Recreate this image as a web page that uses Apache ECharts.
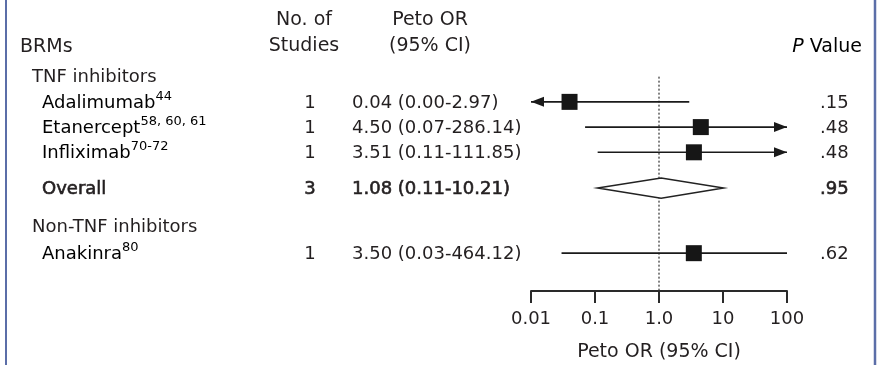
<!DOCTYPE html>
<html><head><meta charset="utf-8">
<script src="https://cdn.jsdelivr.net/npm/echarts@6/dist/echarts.min.js"></script>
<style>html,body{margin:0;padding:0;background:#fff}#c{width:882px;height:365px}</style>
</head><body><div id="c"></div>
<script>
// ---- data ----
const rowLabels = ['TNF inhibitors', 'Adalimumab', 'Etanercept', 'Infliximab', 'Overall', 'Non-TNF inhibitors', 'Anakinra'];
const rowRefs = ['', '44', '58, 60, 61', '70-72', '', '', '80'];
const rowKind = ['group', 'study', 'study', 'study', 'overall', 'group', 'study'];
const rowPos = [3, 4, 5, 6, 7.42, 8.93, 10];
const nStudies = [null, 1, 1, 1, 3, null, 1];
const orEst = [null, 0.04, 4.50, 3.51, 1.08, null, 3.50];
const ciLow = [null, 0.00, 0.07, 0.11, 0.11, null, 0.03];
const ciHigh = [null, 2.97, 286.14, 111.85, 10.21, null, 464.12];
const ciArrow = ['', 'left', 'right', 'right', '', '', ''];
const pValues = ['', '.15', '.48', '.48', '.95', '', '.62'];
const tickLabels = ['0.01', '0.1', '1.0', '10', '100'];
const headerRows = [0.75, 1.79];
const refLineFrom = 3;
const axisMin = 0.01, axisMax = 100;

// ---- setup ----
const FONT = 'DejaVu Sans';
const TXT = '#231f20';
const chart = echarts.init(document.getElementById('c'), null, {renderer: 'canvas'});

const studyIdx = rowKind.map((k, i) => k === 'study' ? i : -1).filter(i => i >= 0);
const overallIdx = rowKind.map((k, i) => k === 'overall' ? i : -1).filter(i => i >= 0);
const fmt = v => v.toFixed(2);

function txt(x, y, text, align, extra) {
  return {
    type: 'text',
    style: Object.assign({
      x: x, y: y, text: text,
      align: align, textAlign: align,
      verticalAlign: 'middle', textVerticalAlign: 'middle',
      fill: TXT, fontFamily: FONT, fontSize: 18
    }, extra || {})
  };
}

const option = {
  animation: false,
  backgroundColor: '#fff',
  grid: {left: 531, right: 95, top: 1, height: 290, outerBoundsMode: 'none'},
  xAxis: {
    type: 'log', logBase: 10, min: axisMin, max: axisMax, position: 'bottom',
    axisLine: {show: true, onZero: false, lineStyle: {color: '#2a2a2a', width: 2}},
    axisTick: {show: true, inside: false, length: 12, lineStyle: {color: '#2a2a2a', width: 2}},
    axisLabel: {
      margin: 19, color: TXT, fontFamily: FONT, fontSize: 18,
      formatter: v => tickLabels[Math.round(Math.log10(v)) + 2]
    },
    splitLine: {show: false}, minorTick: {show: false},
    name: 'Peto OR (95% CI)', nameLocation: 'middle', nameGap: 52,
    nameTextStyle: {color: TXT, fontFamily: FONT, fontSize: 19}
  },
  yAxis: {type: 'value', inverse: true, min: 0, max: 11.5, show: false},
  graphic: [
    {type: 'line', shape: {x1: 6, y1: 0, x2: 6, y2: 365}, style: {stroke: '#5b6ea8', lineWidth: 2}},
    {type: 'line', shape: {x1: 875, y1: 0, x2: 875, y2: 365}, style: {stroke: '#5b6ea8', lineWidth: 2.5}}
  ],
  series: [
    // reference dotted line at OR = 1
    {
      type: 'custom', clip: false, z: 1,
      data: [[1, refLineFrom]],
      renderItem: (params, api) => {
        const a = api.coord([1, refLineFrom]);
        const b = api.coord([1, 11.5]);
        return {type: 'line', shape: {x1: a[0], y1: a[1], x2: b[0], y2: b[1]},
          style: {stroke: '#333', lineWidth: 1.2, lineDash: [2, 2]}};
      }
    },
    // confidence interval lines
    {
      type: 'custom', clip: false, z: 2,
      data: studyIdx.map(i => [orEst[i], rowPos[i]]),
      renderItem: (params, api) => {
        const i = studyIdx[params.dataIndex];
        const lo = Math.max(ciLow[i], axisMin), hi = Math.min(ciHigh[i], axisMax);
        const p1 = api.coord([lo, rowPos[i]]), p2 = api.coord([hi, rowPos[i]]);
        const ch = [];
        let x1 = p1[0], x2 = p2[0];
        const L = 13, H = 5;
        ch.push({type: 'line', shape: {x1: x1, y1: p1[1], x2: x2, y2: p2[1]}, style: {stroke: '#1a1a1a', lineWidth: 1.6}});
        if (ciArrow[i] === 'left') {
          ch.push({type: 'polygon', shape: {points: [[x1, p1[1]], [x1 + L, p1[1] - H], [x1 + L, p1[1] + H]]}, style: {fill: '#1a1a1a'}});
        }
        if (ciArrow[i] === 'right') {
          ch.push({type: 'polygon', shape: {points: [[x2, p2[1]], [x2 - L, p2[1] - H], [x2 - L, p2[1] + H]]}, style: {fill: '#1a1a1a'}});
        }
        return {type: 'group', children: ch};
      }
    },
    // point estimates
    {
      type: 'scatter', clip: false, z: 3, symbol: 'rect', symbolSize: 16,
      itemStyle: {color: '#161616', opacity: 1},
      data: studyIdx.map(i => [orEst[i], rowPos[i]])
    },
    // overall diamond
    {
      type: 'custom', clip: false, z: 3,
      data: overallIdx.map(i => [orEst[i], rowPos[i]]),
      renderItem: (params, api) => {
        const i = overallIdx[params.dataIndex];
        const l = api.coord([ciLow[i], rowPos[i]]);
        const r = api.coord([ciHigh[i], rowPos[i]]);
        const t = api.coord([orEst[i], rowPos[i] - 0.4]);
        const b = api.coord([orEst[i], rowPos[i] + 0.4]);
        return {type: 'polygon', shape: {points: [l, t, r, b]},
          style: {fill: '#fff', stroke: '#222', lineWidth: 1.5}};
      }
    },
    // table text rows
    {
      type: 'custom', clip: false, z: 4,
      data: rowLabels.map((l, i) => [1, rowPos[i]]),
      renderItem: (params, api) => {
        const i = params.dataIndex;
        const y = api.coord([1, rowPos[i]])[1] + 1;
        const kind = rowKind[i];
        const heavy = kind === 'overall' ? {stroke: TXT, lineWidth: 0.6} : {};
        const ch = [];
        const x = kind === 'group' ? 32 : 42;
        if (rowRefs[i]) {
          ch.push({
            type: 'text',
            style: {
              x: x, y: y, align: 'left', textAlign: 'left', verticalAlign: 'middle', textVerticalAlign: 'middle',
              text: '{n|' + rowLabels[i] + '}{s|' + rowRefs[i] + '}',
              rich: {
                n: {fontFamily: FONT, fontSize: 18, color: TXT, lineHeight: 26},
                s: {fontFamily: FONT, fontSize: 13, color: TXT, lineHeight: 10, verticalAlign: 'top'}
              }
            }
          });
        } else {
          ch.push(txt(x, y, rowLabels[i], 'left', heavy));
        }
        if (nStudies[i] != null) ch.push(txt(310, y, String(nStudies[i]), 'center', heavy));
        if (orEst[i] != null) ch.push(txt(352, y, fmt(orEst[i]) + ' (' + fmt(ciLow[i]) + '-' + fmt(ciHigh[i]) + ')', 'left', heavy));
        if (pValues[i]) ch.push(txt(820, y, pValues[i], 'left', heavy));
        return {type: 'group', children: ch};
      }
    },
    // header
    {
      type: 'custom', clip: false, z: 4,
      data: [[1, headerRows[0]]],
      renderItem: (params, api) => {
        const y1 = api.coord([1, headerRows[0]])[1];
        const y2 = api.coord([1, headerRows[1]])[1];
        return {type: 'group', children: [
          txt(20, y2 + 1, 'BRMs', 'left', {fontSize: 19}),
          txt(304, y1, 'No. of', 'center', {fontSize: 19}),
          txt(304, y2, 'Studies', 'center', {fontSize: 19}),
          txt(430, y1, 'Peto OR', 'center', {fontSize: 19}),
          txt(430, y2, '(95% CI)', 'center', {fontSize: 19}),
          {
            type: 'text',
            style: {
              x: 862, y: y2 + 1, align: 'right', textAlign: 'right', verticalAlign: 'middle', textVerticalAlign: 'middle',
              text: '{i|P}{n| Value}',
              rich: {
                i: {fontFamily: FONT, fontSize: 19, color: TXT, fontStyle: 'italic'},
                n: {fontFamily: FONT, fontSize: 19, color: TXT}
              }
            }
          }
        ]};
      }
    }
  ]
};
chart.setOption(option);
</script>
</body></html>
